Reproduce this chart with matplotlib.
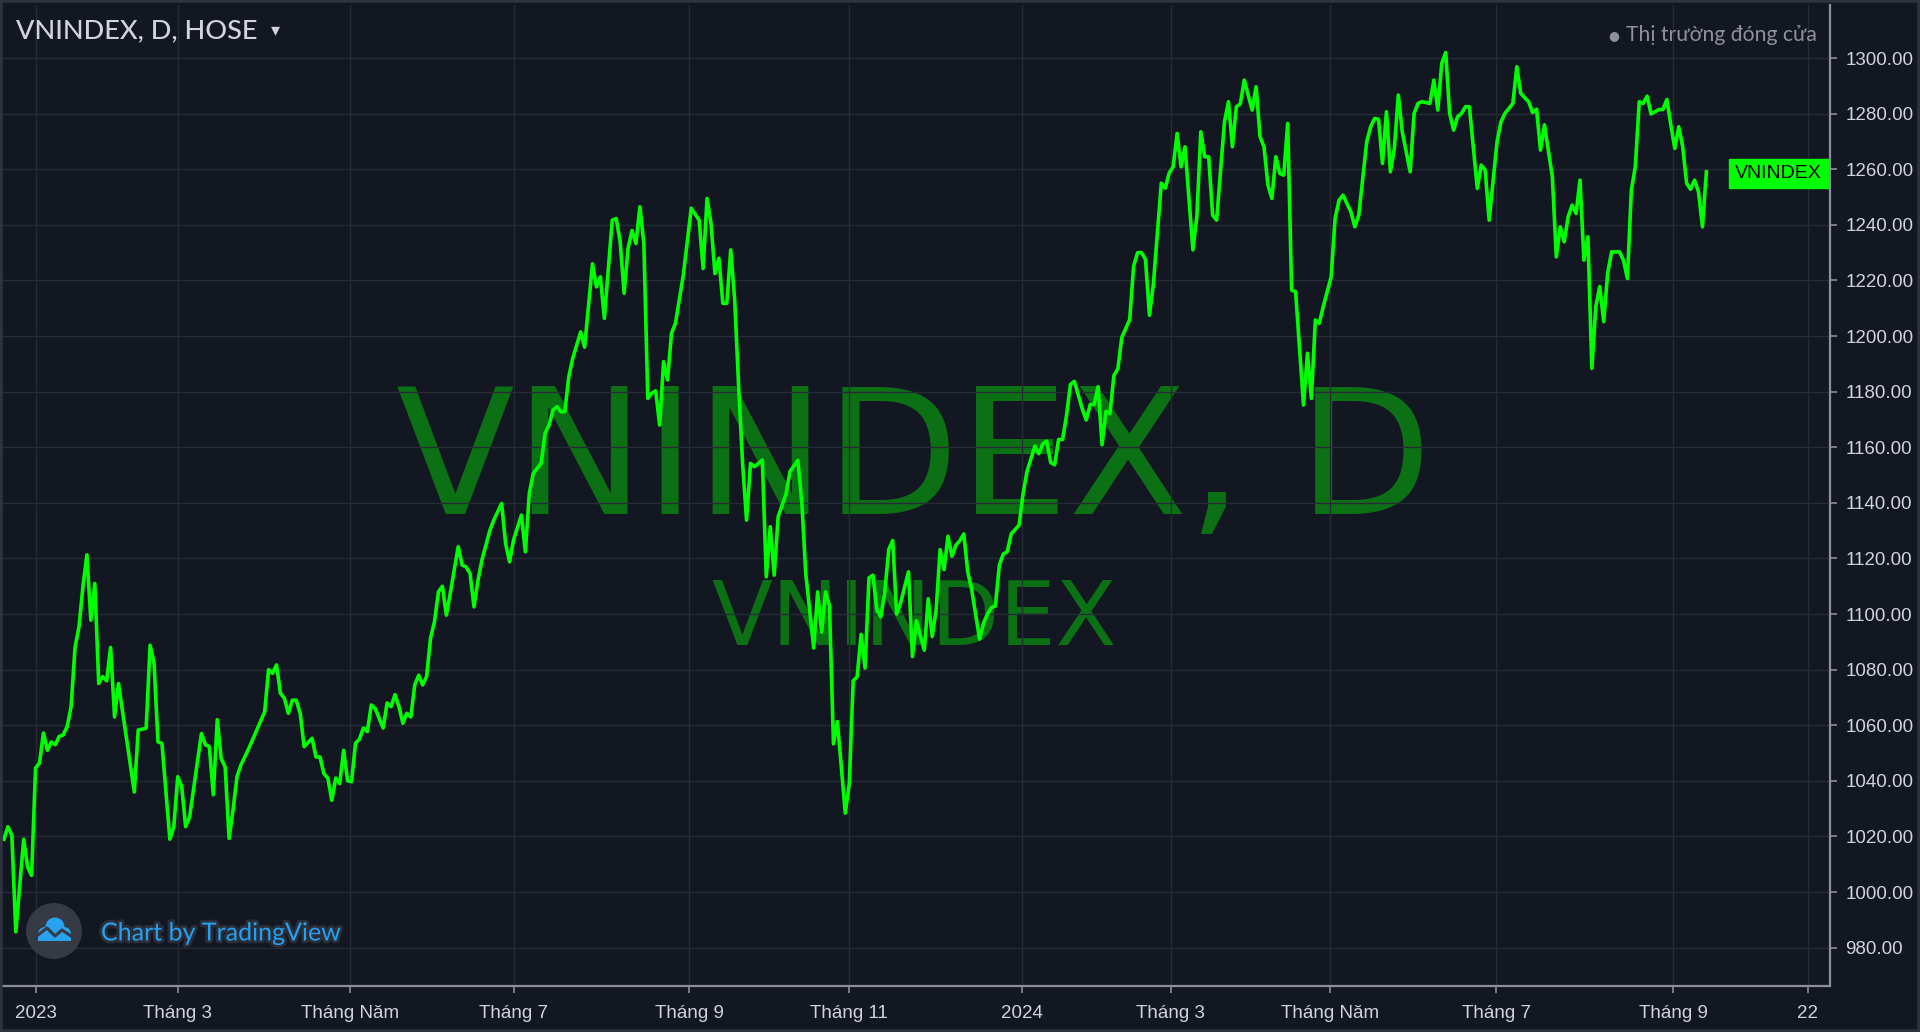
import matplotlib
matplotlib.use("Agg")
import numpy as np
import matplotlib.pyplot as plt
import matplotlib.patheffects as pe
from matplotlib.patches import Circle, Rectangle
from matplotlib.transforms import blended_transform_factory

# trading-day index (bars) and closing values
days = [1, 2, 3, 4, 6, 7, 8, 9, 10, 11, 12, 13, 14, 15, 16, 17, 18, 19, 20, 21, 22, 23, 24, 25, 26, 27, 28, 29, 30,
        34, 35, 37, 38, 39, 40, 41, 43, 44, 45, 46, 47, 48, 51, 52, 53, 54, 55, 56, 57, 58, 59, 60, 61, 63, 65, 67,
        68, 69, 70, 71, 72, 73, 74, 75, 76, 77, 79, 80, 81, 82, 83, 84, 85, 86, 87, 88, 89, 90, 91, 92, 93, 94, 95,
        97, 98, 99, 100, 101, 102, 103, 104, 105, 106, 107, 108, 109, 110, 111, 112, 113, 114, 116, 117, 118, 119,
        120, 121, 122, 124, 125, 127, 128, 129, 130, 132, 133, 134, 135, 137, 138, 139, 140, 141, 142, 143, 144, 145,
        147, 148, 150, 151, 152, 153, 155, 156, 157, 158, 159, 160, 161, 162, 163, 164, 165, 166, 167, 168, 169, 170,
        171, 173, 175, 177, 178, 179, 180, 181, 182, 183, 184, 185, 186, 187, 188, 189, 190, 191, 193, 194, 195, 196,
        197, 199, 200, 202, 203, 204, 206, 207, 208, 209, 210, 211, 212, 214, 215, 216, 217, 218, 219, 220, 221, 222,
        223, 224, 225, 226, 227, 228, 230, 231, 232, 234, 235, 236, 237, 238, 239, 240, 241, 242, 243, 244, 245, 246,
        247, 248, 249, 250, 251, 252, 253, 254, 255, 256, 257, 258, 259, 260, 262, 263, 264, 265, 266, 267, 268, 269,
        270, 271, 272, 274, 275, 276, 277, 278, 279, 280, 281, 282, 283, 284, 286, 287, 288, 289, 290, 291, 292, 294,
        295, 296, 297, 298, 299, 300, 302, 303, 304, 305, 306, 307, 308, 310, 311, 312, 313, 314, 315, 317, 318, 319,
        320, 321, 322, 323, 324, 325, 326, 327, 328, 330, 331, 332, 333, 334, 335, 337, 338, 339, 340, 342, 343, 344,
        346, 347, 348, 349, 350, 351, 352, 353, 354, 355, 357, 358, 359, 360, 362, 363, 364, 365, 366, 367, 368, 369,
        370, 371, 372, 374, 375, 376, 377, 379, 380, 381, 383, 384, 385, 387, 388, 389, 390, 391, 393, 394, 395, 396,
        397, 398, 399, 400, 401, 402, 403, 404, 405, 406, 407, 408, 410, 411, 412, 413, 414, 415, 416, 417, 418, 420,
        421, 422, 423, 424, 425, 426, 427, 428, 429, 430, 431, 432]
closes = [1019, 1023.5, 1020.5, 985.7, 1019, 1009, 1006, 1044.6, 1046.4, 1057.2, 1051, 1054, 1053, 1056, 1056.5,
          1059.5, 1066.7, 1088, 1095.4, 1110, 1121.3, 1097.8, 1111, 1075, 1077.5, 1076, 1088, 1063, 1075,
          1036, 1058.3, 1058.9, 1088.8, 1082.3, 1054, 1053.5, 1019, 1023.5, 1041.5, 1038, 1023.5, 1027, 1057, 1053,
          1052.3, 1035, 1062, 1048, 1045, 1019.3, 1029.5, 1041.5, 1045.7, 1051.7, 1058.3, 1064.8,
          1080, 1078.7, 1081.7, 1071.5, 1069.7, 1064.3, 1069, 1069, 1064.3, 1052.3, 1055.3, 1048.6, 1048.6, 1042.6,
          1041, 1033, 1041, 1039, 1051, 1040, 1039.7, 1053.5, 1055, 1059, 1057.7, 1067.3, 1066,
          1059, 1068, 1066.7, 1071, 1066.7, 1060.7, 1064.3, 1063, 1074.5, 1078, 1074.5, 1077.5, 1091.3, 1097.3, 1108,
          1110, 1099.6, 1107.5, 1124.2, 1117.6, 1117, 1114.6,
          1102.6, 1112, 1119.4, 1130, 1133.8, 1139.8, 1125.4, 1118.8, 1126.6, 1135.6, 1122.4, 1143.4, 1150.6, 1154.2,
          1165, 1168, 1173.4, 1174.6, 1172.8, 1172.8, 1185.4, 1192,
          1201.5, 1196, 1226, 1217.7, 1221.3, 1206.4, 1241.7, 1242.3, 1234, 1215.4, 1231.5, 1238, 1233.3, 1246.5,
          1233.3, 1177.6, 1179.4, 1180.3, 1168, 1190.8, 1184.2, 1201,
          1204.6, 1222, 1246, 1241.7, 1224.3, 1249.5, 1240.5, 1222.5, 1228, 1211.8, 1211.8, 1231, 1213, 1181.8, 1154.2,
          1133.8, 1154.2, 1153, 1155.4, 1113.4, 1131.4, 1114,
          1135, 1143.2, 1151.3, 1155.3, 1140, 1114.4, 1087.8, 1108, 1093.5, 1108, 1103, 1053.3, 1061.3, 1028.4, 1038.8,
          1076, 1077.4, 1092.7, 1080.6, 1113, 1114, 1101.5,
          1099, 1108, 1123.2, 1126.5, 1100, 1104, 1115.2, 1084.7, 1097.6, 1087, 1105.5, 1091.9, 1101.5, 1123.2, 1116,
          1128, 1120.8, 1124.8, 1126.4, 1128.8, 1115.2, 1108.8,
          1100, 1091, 1096.8, 1100, 1102.3, 1103, 1117.6, 1121.6, 1122.4, 1128.8, 1130.4, 1132, 1143.2, 1151.3, 1160.4,
          1157.7, 1161.2, 1162.2, 1154.5, 1153.7, 1162.8, 1162.8,
          1171.4, 1182.6, 1183.7, 1173.8, 1169.8, 1175.4, 1175.4, 1181.8, 1160.9, 1172.9, 1172.1, 1185.8, 1188.2,
          1199.5, 1205.9, 1225.2, 1230, 1230, 1227.6, 1207.5, 1218.7, 1255,
          1253.2, 1258.7, 1260.9, 1272.9, 1260.9, 1268.1, 1231, 1243, 1273.5, 1264.5, 1264.5, 1243.5, 1241.7, 1277.1,
          1284.3, 1268.1, 1282.5, 1283.5, 1292.1, 1281.3, 1289.7, 1271.7,
          1268.1, 1254.3, 1249.5, 1264.5, 1258.5, 1257.9, 1276.5, 1216.5, 1216, 1175.2, 1193.8, 1177.6, 1205.8, 1204.6,
          1210.6, 1221.3, 1242.3, 1248.9, 1250.7, 1244.7, 1239.3, 1243.5,
          1269.9, 1275.3, 1278.3, 1278, 1262.1, 1280.7, 1259.1, 1267.5, 1286.7, 1273.5, 1259.1, 1280.1, 1283.7, 1284.3,
          1283.7, 1292.1, 1281.3, 1298.1, 1302, 1280.1, 1274.1, 1278.9,
          1280.1, 1282.5, 1282.5, 1253.1, 1261.5, 1259.7, 1241.7, 1269.9, 1277.1, 1280.1, 1283.7, 1296.9, 1287.3,
          1284.3, 1280.4, 1281.6, 1266.9, 1276, 1257.3, 1228.5, 1239.3, 1233.9,
          1242.9, 1247.1, 1244.1, 1256.1, 1227.3, 1235.7, 1188.4, 1210.6, 1217.8, 1205.2, 1222.6, 1230.3, 1230.3,
          1227.3, 1220.7, 1252.5, 1260.9, 1284.3, 1283.7, 1286.3, 1279.9, 1281.5,
          1281.5, 1285.1, 1275.9, 1267.5, 1275.3, 1268.1, 1254.9, 1252.8, 1256.1, 1251.9, 1239.3, 1259.1]

tick_days = [9, 45, 88.5, 130, 174.5, 215, 258.7, 296.4, 336.7, 378.8, 423.6, 457.6]
tick_labels = ["2023", "Tháng 3", "Tháng Năm", "Tháng 7", "Tháng 9", "Tháng 11",
               "2024", "Tháng 3", "Tháng Năm", "Tháng 7", "Tháng 9", "22"]
price_ticks = list(range(980, 1301, 20))

BG = "#131722"
GRID = "#272b36"
TEXT = "#d1d4dc"
AXIS = "#8c8f99"
LINE = "#00ff00"
WATERMARK = "#0c7014"
UI_FONT = ["Liberation Sans", "DejaVu Sans"]

W, H = 1920, 1032
fig = plt.figure(figsize=(W / 100, H / 100), dpi=100, facecolor=BG)
ax = fig.add_axes([0, 46 / H, 1830 / W, 1 - 46 / H - 5 / H])
ax.set_facecolor(BG)

ax.plot(days, closes, color=LINE, lw=2.6, zorder=3)

ax.set_xlim(0, 1830 / 3.95)
ax.set_ylim(966.2, 1319.1)

ax.yaxis.tick_right()
ax.set_yticks(price_ticks, [f"{v:.2f}" for v in price_ticks])
ax.set_xticks(tick_days, tick_labels)
ax.tick_params(axis="both", colors=AXIS, labelcolor=TEXT, labelsize=13.5, length=5, width=1.2)
ax.tick_params(axis="x", pad=9)
ax.tick_params(axis="y", pad=6)
for lab in ax.get_xticklabels() + ax.get_yticklabels():
    lab.set_family(UI_FONT)
ax.grid(True, color=GRID, lw=1.0, zorder=0)

for side in ("left", "top"):
    ax.spines[side].set_visible(False)
for side in ("right", "bottom"):
    ax.spines[side].set_color(AXIS)
    ax.spines[side].set_linewidth(1.6)

# watermark
ax.text(0.4995, 0.481, "VNINDEX, D", transform=ax.transAxes, ha="center", va="baseline",
        family="DejaVu Sans", fontsize=125, color=WATERMARK, zorder=1)
ax.text(0.4995, 0.3476, "VNINDEX", transform=ax.transAxes, ha="center", va="baseline",
        family="DejaVu Sans", fontsize=64, color=WATERMARK, zorder=1)

# last price tag
trans = blended_transform_factory(ax.transAxes, ax.transData)
ax.text(0.9955, closes[-1] - 0.6, "VNINDEX", transform=trans, ha="right", va="center", family=UI_FONT,
        fontsize=14, color="black", zorder=5,
        bbox=dict(boxstyle="square,pad=0.32", fc=LINE, ec=LINE))

# header texts
fig.text(16 / W, 1 - 31 / H, "VNINDEX, D, HOSE", ha="left", va="center", family=["Lato", "DejaVu Sans"],
         fontsize=19.5, fontweight="medium", color=TEXT)
fig.text(275 / W, 1 - 30 / H, "▾", ha="center", va="center", family="DejaVu Sans", fontsize=13, color=TEXT)
fig.text(1614 / W, 1 - 36 / H, "●", ha="center", va="center", family="DejaVu Sans", fontsize=9, color="#8e9199")
fig.text(1626 / W, 1 - 35 / H, "Thị trường đóng cửa", ha="left", va="center", family=["Lato", "DejaVu Sans"],
         fontsize=15.2, color="#8e9199")

# TradingView badge
fig.patches.append(Circle((54, H - 931), 28, transform=None, fc="#363a45", ec="none", zorder=4))
for cx, cy, r in [(45, H - 934, 7), (55, H - 927, 9.5), (64, H - 934, 7)]:
    fig.patches.append(Circle((cx, cy), r, transform=None, fc="#29a3ef", ec="none", zorder=5))
fig.patches.append(Rectangle((38, H - 941), 33, 8, transform=None, fc="#29a3ef", ec="none", zorder=5))
fig.lines.append(plt.Line2D([38, 47, 55, 62, 71], [H - 935, H - 928, H - 936, H - 930, H - 936], transform=None,
                            color="#363a45", lw=2.2, zorder=6))
fig.text(101 / W, 1 - 933 / H, "Chart by TradingView", ha="left", va="center", family=["Lato", "DejaVu Sans"],
         fontsize=18, color="#26a0f0",
         path_effects=[pe.withStroke(linewidth=4, foreground="#2a2e39")])

# outer frame
fig.patches.append(Rectangle((0, 0), 1, 1, transform=fig.transFigure, fill=False, ec="#2f3340", lw=4))

fig.savefig("out.png", dpi=100, facecolor=BG)
